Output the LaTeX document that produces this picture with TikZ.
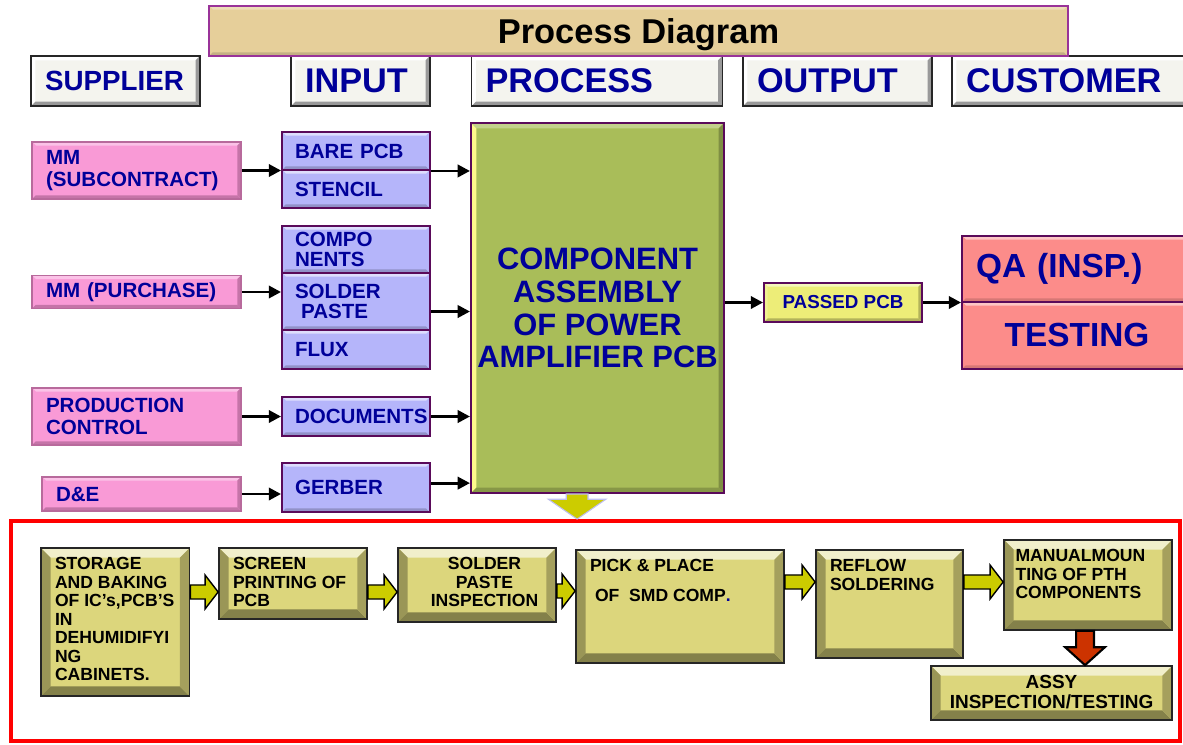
\documentclass[tikz,border=0pt]{standalone}
\usepackage{fontspec}
\setmainfont{Liberation Sans}
\usetikzlibrary{arrows.meta,calc,positioning}

\definecolor{txtblue}{HTML}{000099}
\definecolor{papyrus}{HTML}{E6CF9A}
\definecolor{titleframe}{HTML}{993399}
\definecolor{hdrface}{HTML}{F4F4EE}
\definecolor{suppink}{HTML}{F99AD6}
\definecolor{supedge}{HTML}{B86A9C}
\definecolor{inlav}{HTML}{B5B5FA}
\definecolor{inframe}{HTML}{5A0A5A}
\definecolor{procgreen}{HTML}{A9BD59}
\definecolor{passyel}{HTML}{EDED78}
\definecolor{qasalmon}{HTML}{FC8C8A}
\definecolor{stepface}{HTML}{DCD67C}
\definecolor{arrowolive}{HTML}{CCCC00}
\definecolor{arrowred}{HTML}{CC3300}

% raised look: top, left, bottom, right colour, width
\tikzset{
  bevel/.style n args={5}{path picture={
    \path (path picture bounding box.north west) coordinate (bnw)
          (path picture bounding box.north east) coordinate (bne)
          (path picture bounding box.south east) coordinate (bse)
          (path picture bounding box.south west) coordinate (bsw);
    \fill[#1] (bnw) -- (bne) -- ([shift={(-#5,-#5)}]bne) -- ([shift={(#5,-#5)}]bnw) -- cycle;
    \fill[#2] (bnw) -- ([shift={(#5,-#5)}]bnw) -- ([shift={(#5,#5)}]bsw) -- (bsw) -- cycle;
    \fill[#3] (bsw) -- ([shift={(#5,#5)}]bsw) -- ([shift={(-#5,#5)}]bse) -- (bse) -- cycle;
    \fill[#4] (bse) -- ([shift={(-#5,#5)}]bse) -- ([shift={(-#5,-#5)}]bne) -- (bne) -- cycle;
  }}
}

\tikzstyle{titlebox}=[draw=titleframe, line width=0.8pt, fill=papyrus, minimum width=17.18cm, minimum height=1.0cm, text depth=0pt, font=\fontsize{19.6}{22}\selectfont\bfseries, bevel={papyrus!70!white}{papyrus}{papyrus!85!black}{papyrus}{2pt}]
\tikzstyle{hdr}=[draw=black!85, line width=0.8pt, fill=hdrface, inner xsep=0.28cm, inner ysep=0pt, minimum height=1.0cm, align=left, text=txtblue, font=\fontsize{19.5}{22}\selectfont\bfseries, bevel={white}{white}{black!40}{black!40}{2.5pt}]
\tikzstyle{supplier}=[draw=supedge, line width=1pt, fill=suppink, minimum width=4.18cm, inner xsep=0.28cm, inner ysep=0pt, text width=3.62cm, align=left, text=txtblue, font=\fontsize{11.7}{12.5}\selectfont\bfseries, bevel={suppink!60!white}{suppink}{supedge!80!suppink}{supedge!80!suppink}{2pt}]
\tikzstyle{inbox}=[draw=inframe, line width=1.1pt, fill=inlav, minimum width=2.96cm, inner xsep=0.26cm, inner ysep=0pt, text width=2.44cm, align=left, text=txtblue, font=\fontsize{11.7}{11.5}\selectfont\bfseries, bevel={inlav!45!white}{inlav}{inlav!80!black}{inlav}{2pt}]
\tikzstyle{procbox}=[draw=inframe, line width=1.2pt, fill=procgreen, minimum width=5.06cm, minimum height=7.4cm, inner sep=0pt, align=center, text=txtblue, font=\fontsize{17.6}{18.7}\selectfont\bfseries, bevel={procgreen!70!white}{yellow!45!white}{procgreen!80!black}{procgreen!75!black}{3pt}]
\tikzstyle{passbox}=[draw=inframe, line width=1.1pt, fill=passyel, minimum width=3.16cm, minimum height=0.78cm, inner sep=0pt, text=txtblue, font=\fontsize{10.7}{12}\selectfont\bfseries, bevel={passyel!50!white}{passyel!80!white}{passyel!75!black}{passyel!75!black}{2pt}]
\tikzstyle{custbox}=[draw=inframe, line width=1.1pt, fill=qasalmon, minimum width=4.6cm, inner xsep=0.28cm, inner ysep=0pt, text width=4.04cm, text=txtblue, font=\fontsize{19}{22}\selectfont\bfseries, bevel={qasalmon!50!white}{qasalmon}{qasalmon!85!black}{qasalmon}{2pt}]
\tikzstyle{frame}=[draw=red, line width=2.2pt, inner sep=0pt]
\tikzstyle{stepbox}=[draw=black!85, line width=1pt, fill=stepface, inner sep=0pt, font=\fontsize{10}{10.5}\selectfont\bfseries, bevel={stepface!40!white}{stepface!70!black}{stepface!60!black}{stepface!75!black}{5.5pt}]
\tikzstyle{edge}=[draw, line width=1.6pt, -{Triangle[length=7pt,width=7pt]}]
\tikzstyle{fatarrow}=[fill=arrowolive, draw=black, line width=0.8pt, line join=miter]

\newcommand{\steptext}[3]{\parbox[c][#2][t]{#1}{\raggedright #3}}
% horizontal block arrow: from, to, y
\newcommand{\fatright}[3]{%
  \path[fatarrow] let \p1=(#1), \p2=(#2), \p3=(0,#3) in
    (\x1,\y3+4pt) -- (\x2-7.4pt,\y3+4pt) -- (\x2-7.4pt,\y3+9.6pt) -- (\x2,\y3)
    -- (\x2-7.4pt,\y3-9.6pt) -- (\x2-7.4pt,\y3-4pt) -- (\x1,\y3-4pt) -- cycle;}
% vertical block arrow: style, from, to, half shaft, half head, head length
\newcommand{\fatdown}[6]{%
  \path[#1] let \p1=(#2), \p2=(#3) in
    (\x1-#4,\y1) -- (\x1-#4,\y2+#6) -- (\x1-#5,\y2+#6) -- (\x1,\y2)
    -- (\x1+#5,\y2+#6) -- (\x1+#4,\y2+#6) -- (\x1+#4,\y1) -- cycle;}

\begin{document}
\begin{tikzpicture}[x=0.02cm, y=-0.02cm]
\clip (0,0) rectangle (1183,744);

% header row
\node[hdr, text width=2.82cm, font=\fontsize{15.8}{18}\selectfont\bfseries] (hsup) at (115.5,81) {SUPPLIER};
\node[hdr, text width=2.22cm] (hin) at (360.5,81) {INPUT};
\node[hdr, text width=4.46cm] (hproc) at (597,81) {PROCESS};
\node[hdr, text width=3.22cm] (hout) at (837.5,81) {OUTPUT};
\node[hdr, text width=4.2cm] (hcus) at (1071,81) {CUSTOMER};
\node[titlebox] (title) at (638.5,31) {Process Diagram};

% suppliers
\foreach \pos/\name/\hh/\txt in {{(136.5,170.5)/mmsub/1.14/{MM\\(SUBCONTRACT)}}, {(136.5,292)/mmpur/0.66/{MM (PURCHASE)}}, {(136.5,416.5)/prod/1.14/{PRODUCTION\\CONTROL}}}
  \node[supplier, minimum height=\hh cm] (\name) at \pos {\txt};
\node[supplier, minimum width=3.98cm, text width=3.42cm, minimum height=0.68cm] (de) at (141.5,494) {D\&E};

% inputs
\foreach \pos/\name/\hh/\txt in {{(356,151)/bare/0.76/{BARE PCB}}, {(356,189)/sten/0.76/STENCIL}, {(356,249.5)/comp/0.94/{COMPO\\NENTS}}, {(356,301.5)/paste/1.14/{SOLDER\\\hspace*{0.3em}PASTE}}, {(356,349.5)/flux/0.78/FLUX}, {(356,416.5)/docs/0.78/DOCUMENTS}, {(356,487.5)/gerber/0.98/GERBER}}
  \node[inbox, minimum height=\hh cm] (\name) at \pos {\txt};

% process, output, customer
\node[procbox] (proc) at (597.5,308) {COMPONENT\\ASSEMBLY\\OF POWER\\AMPLIFIER PCB};
\node[passbox] (passed) at (843,302.5) {PASSED PCB};
\node[custbox, minimum height=1.32cm, align=left] (qa) at (1077,269) {QA (INSP.)};
\node[custbox, minimum height=1.34cm, align=center] (test) at (1077,335.5) {TESTING};

% connectors
\foreach \src/\dst in {mmsub/bare, mmpur/comp, prod/docs, de/gerber}
  \draw[edge] (\src.east) -- (\src.east -| \dst.west);
\foreach \src/\dy in {bare.south east/0pt, paste.east/-5.7pt, docs.east/0pt, gerber.east/2.5pt}
  \draw[edge] ([yshift=\dy]\src) -- ([yshift=\dy]\src -| proc.west);
\draw[edge] (proc.east |- passed.west) -- (passed.west);
\draw[edge] (passed.east) -- (passed.east -| qa.west);

% detailed process steps
\node[frame, minimum width=23.38cm, minimum height=4.4cm] (frame) at (595.5,631) {};
\fatdown{fill=arrowolive, draw=black!20!blue!25, line width=0.6pt}{[xshift=-11.6pt]proc.south}{[xshift=-11.6pt]proc.south |- frame.north}{6.2pt}{16.4pt}{11.3pt}

\node[stepbox, minimum width=2.97cm, minimum height=2.96cm] (stor) at (115.25,622) {\steptext{2.41cm}{2.58cm}{STORAGE\\AND BAKING\\OF IC’s,PCB’S\\IN\\DEHUMIDIFYI\\NG\\CABINETS.}};
\node[stepbox, minimum width=2.96cm, minimum height=1.42cm] (scrn) at (293,583.5) {\steptext{2.4cm}{1.04cm}{SCREEN\\PRINTING OF\\PCB}};
\node[stepbox, minimum width=3.16cm, minimum height=1.48cm] (spi) at (477,585) {\steptext{2.8cm}{1.1cm}{\centering\hspace*{0.3cm}SOLDER\\\hspace*{0.3cm}PASTE\\\hspace*{0.3cm}INSPECTION}};
\node[stepbox, minimum width=4.16cm, minimum height=2.26cm] (pick) at (680,606.5) {\steptext{3.6cm}{1.88cm}{PICK \& PLACE\\[6.5pt]\hspace*{0.1cm}OF\ \ SMD COMP{\color{txtblue}.}}};
\node[stepbox, minimum width=2.94cm, minimum height=2.16cm] (reflow) at (889.5,604) {\steptext{2.38cm}{1.78cm}{REFLOW\\SOLDERING}};
\node[stepbox, minimum width=3.36cm, minimum height=1.8cm] (manual) at (1088,585) {\steptext{2.9cm}{1.42cm}{MANUALMOUN\\TING OF PTH\\COMPONENTS}};
\node[stepbox, minimum width=4.82cm, minimum height=1.08cm, font=\fontsize{10.8}{11}\selectfont\bfseries] (assy) at (1051.5,693) {\steptext{4.4cm}{0.7cm}{\centering ASSY\\INSPECTION/TESTING}};

\fatright{stor.east}{scrn.west}{592}
\fatright{scrn.east}{spi.west}{592}
\fatright{spi.east}{pick.west}{591}
\fatright{pick.east}{reflow.west}{582}
\fatright{reflow.east}{manual.west}{582}
\fatdown{fill=arrowred, draw=black, line width=1.2pt}{[xshift=-1.7pt]manual.south}{[xshift=-1.7pt]manual.south |- assy.north}{5.1pt}{11.3pt}{10.2pt}

\end{tikzpicture}
\end{document}
